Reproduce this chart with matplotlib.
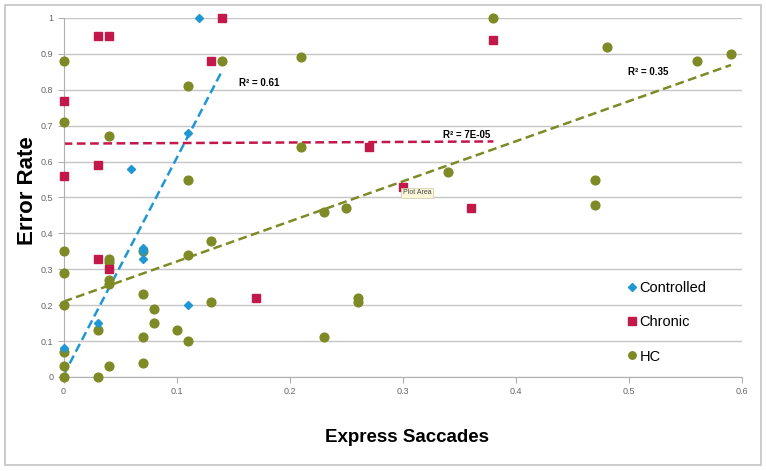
import numpy as np
import matplotlib
matplotlib.use("Agg")
import matplotlib.pyplot as plt
from matplotlib.patches import Rectangle

plt.rcParams['font.family'] = ['Liberation Sans', 'DejaVu Sans']

# values
controlled_x = [0.00, 0.03, 0.06, 0.07, 0.07, 0.07, 0.11, 0.11, 0.12]
controlled_y = [0.08, 0.15, 0.58, 0.36, 0.33, 0.35, 0.68, 0.20, 1.00]

chronic_x = [0.00, 0.00, 0.03, 0.04, 0.03, 0.03, 0.04, 0.13, 0.14, 0.17, 0.27, 0.30, 0.36, 0.38]
chronic_y = [0.77, 0.56, 0.95, 0.95, 0.59, 0.33, 0.30, 0.88, 1.00, 0.22, 0.64, 0.53, 0.47, 0.94]

hc_x = [0.00, 0.00, 0.00, 0.00, 0.00, 0.00, 0.00, 0.00,
        0.03, 0.03,
        0.04, 0.04, 0.04, 0.04, 0.04, 0.04,
        0.07, 0.07, 0.07, 0.07,
        0.08, 0.08, 0.10,
        0.11, 0.11, 0.11, 0.11,
        0.13, 0.13, 0.14,
        0.21, 0.21, 0.23, 0.23, 0.25, 0.26, 0.26,
        0.34, 0.38, 0.47, 0.47, 0.48, 0.56, 0.59]
hc_y = [0.88, 0.71, 0.35, 0.29, 0.20, 0.07, 0.03, 0.00,
        0.13, 0.00,
        0.67, 0.33, 0.32, 0.27, 0.26, 0.03,
        0.35, 0.23, 0.11, 0.04,
        0.19, 0.15, 0.13,
        0.81, 0.55, 0.34, 0.10,
        0.38, 0.21, 0.88,
        0.89, 0.64, 0.46, 0.11, 0.47, 0.22, 0.21,
        0.57, 1.00, 0.55, 0.48, 0.92, 0.88, 0.90]

# linear trend lines as drawn in the picture: (slope, intercept, x end)
trend_controlled = (6.05, 0.005, 0.14)
trend_chronic = (0.016, 0.650, 0.38)
trend_hc = (1.117, 0.21, 0.59)
r2_labels = ["R² = 0.61", "R² = 7E-05", "R² = 0.35"]

series_names = ["Controlled", "Chronic", "HC"]
blue = "#1f97d4"
red = "#c2184a"
green = "#7d8a25"

fig = plt.figure(figsize=(7.66, 4.71), dpi=100)
ax = fig.add_axes([0.083, 0.1996, 0.886, 0.7622])

# outer frame of the chart object
fig.patches.append(Rectangle((5 / 766, 1 - 465 / 471), 756 / 766, 460 / 471,
                             transform=fig.transFigure, fill=False,
                             edgecolor="#c4c4c4", lw=1.2))

ax.set_xlim(0, 0.6)
ax.set_ylim(0, 1)
ax.set_yticks(np.arange(0, 1.01, 0.1))
ax.set_xticks(np.arange(0, 0.61, 0.1))
ax.set_yticklabels(["0", "0.1", "0.2", "0.3", "0.4", "0.5", "0.6", "0.7", "0.8", "0.9", "1"])
ax.set_xticklabels(["0", "0.1", "0.2", "0.3", "0.4", "0.5", "0.6"])
ax.yaxis.grid(True, color="#c6c6c6", lw=1.0)
ax.set_axisbelow(True)
for s in ["top", "right"]:
    ax.spines[s].set_visible(False)
for s in ["left", "bottom"]:
    ax.spines[s].set_color("#b0b0b0")
ax.tick_params(colors="#b0b0b0", labelcolor="#666666", labelsize=6.5, length=4)

# trend lines
for (m, b, xe), col in zip([trend_controlled, trend_chronic, trend_hc], [blue, red, green]):
    xs = np.array([0, xe])
    ax.plot(xs, m * xs + b, ls=(0, (3.5, 1.8)), color=col, lw=1.8, zorder=2)

ax.plot(hc_x, hc_y, "o", color=green, ms=6.3, mec=green, label=series_names[2], clip_on=False, zorder=3)
ax.plot(chronic_x, chronic_y, "s", color=red, ms=6.0, mec=red, label=series_names[1], clip_on=False, zorder=4)
ax.plot(controlled_x, controlled_y, "D", color=blue, ms=4.3, mec=blue, label=series_names[0], clip_on=False, zorder=5)

ax.text(0.155, 0.82, r2_labels[0], fontsize=7, fontweight="bold", va="center")
ax.text(0.3355, 0.674, r2_labels[1], fontsize=7, fontweight="bold", va="center")
ax.text(0.499, 0.85, r2_labels[2], fontsize=7, fontweight="bold", va="center")

# tooltip left in the screenshot
ax.text(0.3, 0.513, "Plot Area", fontsize=5, color="#444444", va="center", zorder=6,
        bbox=dict(boxstyle="square,pad=0.25", fc="#fbf8d9", ec="#cfc9a6", lw=0.5))

handles, labels = ax.get_legend_handles_labels()
order = [2, 1, 0]
ax.legend([handles[i] for i in order], [labels[i] for i in order],
          loc="center left", bbox_to_anchor=(0.822, 0.152), frameon=False,
          fontsize=10.5, labelspacing=1.38, handlelength=0.5, handletextpad=0.25,
          borderpad=0, markerscale=0.85)

ax.set_xlabel("Express Saccades", fontsize=13.5, fontweight="bold")
ax.xaxis.set_label_coords(0.506, -0.145)
ax.set_ylabel("Error Rate", fontsize=16, fontweight="bold")
ax.yaxis.set_label_coords(-0.037, 0.52)

fig.savefig("out.png", dpi=100)
